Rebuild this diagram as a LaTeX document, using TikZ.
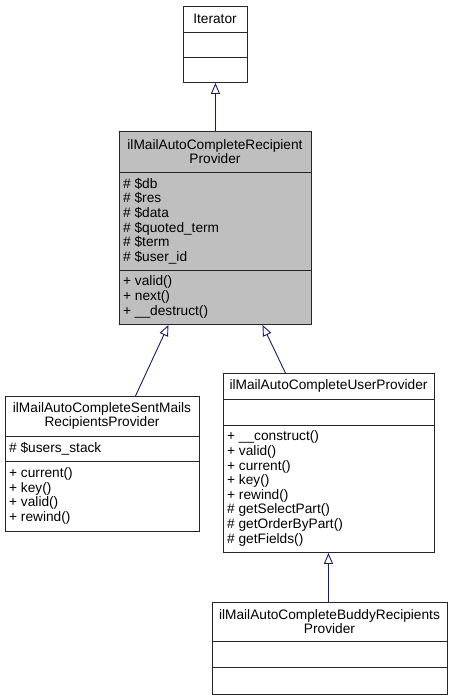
\documentclass[tikz,border=0pt]{standalone}
\usepackage{fontspec}
\setmainfont{Liberation Sans}
\usetikzlibrary{arrows.meta}
\definecolor{edgeblue}{RGB}{25,25,112}
\definecolor{boxgray}{RGB}{191,191,191}
\begin{document}
\begin{tikzpicture}[x=1pt,y=-1pt,
  classbox/.style={draw=black!85,line width=0.9pt,inner sep=0,anchor=north west},
  divider/.style={draw=black!85,line width=0.9pt},
  txt/.style={inner sep=0,font=\fontsize{13.7}{14.6}\selectfont},
  ctitle/.style={txt,align=center},
  members/.style={txt,align=left,anchor=west},
  inherit/.style={draw=edgeblue,line width=0.9pt,-{Triangle[open,length=11pt,width=9pt,fill=white]}}]
\useasboundingbox (0,0) rectangle (451,699);
% boxes
\node[classbox,minimum width=64pt,minimum height=76pt] (iter) at (183,6) {};
\node[classbox,fill=boxgray,minimum width=192pt,minimum height=193pt] (main) at (119,131) {};
\node[classbox,minimum width=194pt,minimum height=135pt] (sent) at (5,396) {};
\node[classbox,minimum width=211pt,minimum height=179pt] (user) at (223,373) {};
\node[classbox,minimum width=235pt,minimum height=92pt] (buddy) at (212,602) {};
% dividers
\draw[divider] (183,32) -- (247,32);
\draw[divider] (183,57) -- (247,57);
\draw[divider] (119,172) -- (311,172);
\draw[divider] (119,270) -- (311,270);
\draw[divider] (5,436) -- (199,436);
\draw[divider] (5,461) -- (199,461);
\draw[divider] (223,399) -- (434,399);
\draw[divider] (223,425) -- (434,425);
\draw[divider] (212,641) -- (447,641);
\draw[divider] (212,667) -- (447,667);
% texts
\node[ctitle] (iterT) at (215,19) {Iterator};
\node[ctitle] (mainT) at (215,151.5) {ilMailAutoCompleteRecipient\\Provider};
\node[members] (mainA) at (123,221) {\# \$db\\\# \$res\\\# \$data\\\# \$quoted\_term\\\# \$term\\\# \$user\_id};
\node[members] (mainM) at (123,297) {+ valid()\\+ next()\\+ \_\_destruct()};
\node[ctitle] (sentT) at (102,416) {ilMailAutoCompleteSentMails\\RecipientsProvider};
\node[members] (sentA) at (9,448.5) {\# \$users\_stack};
\node[members] (sentM) at (9,496) {+ current()\\+ key()\\+ valid()\\+ rewind()};
\node[ctitle] (userT) at (328.5,386) {ilMailAutoCompleteUserProvider};
\node[members] (userM) at (227,488.5) {+ \_\_construct()\\+ valid()\\+ current()\\+ key()\\+ rewind()\\\# getSelectPart()\\\# getOrderByPart()\\\# getFields()};
\node[ctitle] (buddyT) at (329.5,621.5) {ilMailAutoCompleteBuddyRecipients\\Provider};
% inheritance
\draw[inherit] (main.north) -- (iter.south);
\draw[inherit] ([xshift=33pt]sent.north) -- ([xshift=-47pt]main.south);
\draw[inherit] ([xshift=-43.5pt]user.north) -- ([xshift=47pt]main.south);
\draw[inherit] ([xshift=-1.5pt]buddy.north) -- ([xshift=-0.5pt]user.south);
\end{tikzpicture}
\end{document}
